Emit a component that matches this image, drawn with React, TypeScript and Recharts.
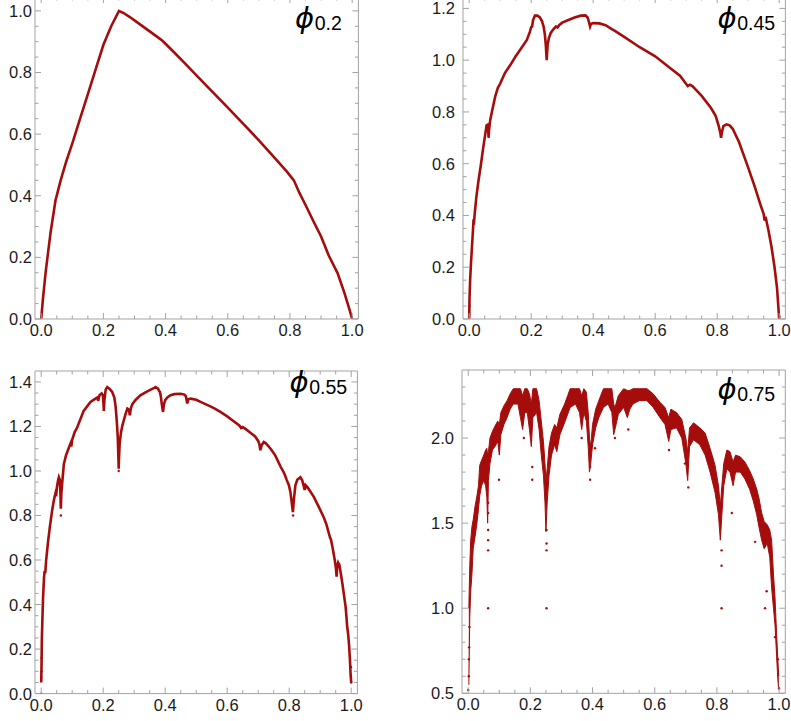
import { Area, ComposedChart, Line, Scatter, XAxis, YAxis } from "recharts";

const RED = "#a50d0d";
const FRAME = "#a3a3a3";
const INK = "#1c1c1c";
const FONT = "'Liberation Sans', Arial, sans-serif";

// tick positions (majors get labels)
const xMajor = [0, 0.2, 0.4, 0.6, 0.8, 1];
const xMinor = [0.05, 0.1, 0.15, 0.25, 0.3, 0.35, 0.45, 0.5, 0.55, 0.65, 0.7, 0.75, 0.85, 0.9, 0.95];
const yMajorA = [0, 0.2, 0.4, 0.6, 0.8, 1, 1.2, 1.4];
const yMinorA = [0.05, 0.1, 0.15, 0.25, 0.3, 0.35, 0.45, 0.5, 0.55, 0.65, 0.7, 0.75, 0.85, 0.9, 0.95, 1.05, 1.1, 1.15, 1.25, 1.3, 1.35, 1.45];
const yMajorB = [0.5, 1, 1.5, 2];
const yMinorB = [0.6, 0.7, 0.8, 0.9, 1.1, 1.2, 1.3, 1.4, 1.6, 1.7, 1.8, 1.9, 2.1, 2.2, 2.3];

// phi_0.2
const phi02: [number, number][] = [
  [0, 0], [0.005, 0.06], [0.014, 0.15], [0.03, 0.28], [0.046, 0.385], [0.0625, 0.45],
  [0.08, 0.51], [0.1, 0.57], [0.125, 0.65], [0.15, 0.73], [0.175, 0.81], [0.2, 0.89],
  [0.225, 0.95], [0.25, 1.0], [0.265, 0.993], [0.285, 0.98], [0.31, 0.962], [0.34, 0.94],
  [0.37, 0.918], [0.39, 0.903], [0.42, 0.873], [0.46, 0.832], [0.5, 0.79], [0.55, 0.738],
  [0.6, 0.686], [0.65, 0.633], [0.7, 0.58], [0.75, 0.524], [0.79, 0.478], [0.8125, 0.45],
  [0.83, 0.41], [0.85, 0.37], [0.875, 0.318], [0.9, 0.268], [0.925, 0.205], [0.953, 0.149],
  [0.975, 0.085], [0.99, 0.035], [1, 0],
];

// phi_0.45
const phi045: [number, number][] = [
  [0, 0], [0.001, 0.08], [0.003, 0.15], [0.006, 0.22], [0.009, 0.28], [0.012, 0.34],
  [0.014, 0.385], [0.016, 0.38], [0.018, 0.41], [0.023, 0.47], [0.03, 0.535], [0.037, 0.59],
  [0.045, 0.66], [0.052, 0.715], [0.056, 0.748], [0.059, 0.75], [0.0615, 0.73], [0.0625, 0.7],
  [0.064, 0.73], [0.068, 0.77], [0.075, 0.81], [0.084, 0.86], [0.093, 0.895], [0.096, 0.9],
  [0.1, 0.91], [0.115, 0.95], [0.132, 0.98], [0.15, 1.015], [0.17, 1.05], [0.186, 1.078],
  [0.196, 1.11], [0.2, 1.128], [0.203, 1.13], [0.206, 1.155], [0.212, 1.172], [0.22, 1.172],
  [0.228, 1.165], [0.235, 1.15], [0.24, 1.13], [0.244, 1.1], [0.247, 1.06], [0.25, 1.0],
  [0.253, 1.06], [0.257, 1.085], [0.263, 1.105], [0.272, 1.12], [0.28, 1.13], [0.285, 1.126],
  [0.29, 1.135], [0.3, 1.145], [0.32, 1.155], [0.34, 1.165], [0.36, 1.172], [0.375, 1.173],
  [0.382, 1.165], [0.388, 1.14], [0.39, 1.13], [0.393, 1.14], [0.4, 1.143], [0.42, 1.142],
  [0.44, 1.135], [0.46, 1.12], [0.47, 1.113], [0.5, 1.09], [0.55, 1.05], [0.6, 1.015],
  [0.65, 0.968], [0.68, 0.94], [0.7, 0.908], [0.705, 0.9], [0.712, 0.905], [0.72, 0.9],
  [0.75, 0.862], [0.78, 0.815], [0.795, 0.785], [0.805, 0.745], [0.81, 0.72], [0.8125, 0.7],
  [0.815, 0.72], [0.82, 0.745], [0.83, 0.752], [0.84, 0.748], [0.85, 0.735], [0.87, 0.685],
  [0.9, 0.585], [0.92, 0.515], [0.94, 0.44], [0.95, 0.405], [0.953, 0.38], [0.956, 0.395],
  [0.965, 0.345], [0.975, 0.28], [0.985, 0.2], [0.993, 0.12], [1, 0],
];
const dots045: [number, number][] = [[0, 0.02], [0.001, 0.05], [1, 0.01]];

// phi_0.55
const phi055: [number, number][] = [
  [0, 0.05], [0.001, 0.12], [0.002, 0.24], [0.004, 0.34], [0.006, 0.43], [0.009, 0.52],
  [0.011, 0.55], [0.013, 0.54], [0.016, 0.6], [0.022, 0.68], [0.028, 0.75], [0.035, 0.82],
  [0.041, 0.87], [0.047, 0.905], [0.049, 0.9], [0.051, 0.93], [0.054, 0.955], [0.057, 0.972],
  [0.06, 0.96], [0.062, 0.9], [0.0633, 0.83], [0.065, 0.9], [0.068, 0.95], [0.073, 1.03],
  [0.08, 1.07], [0.088, 1.1], [0.095, 1.125], [0.097, 1.11], [0.1, 1.14], [0.108, 1.175],
  [0.116, 1.195], [0.137, 1.27], [0.159, 1.31], [0.175, 1.325], [0.181, 1.33], [0.184, 1.315],
  [0.188, 1.34], [0.195, 1.348], [0.199, 1.34], [0.201, 1.3], [0.202, 1.27], [0.204, 1.32],
  [0.208, 1.365], [0.213, 1.377], [0.22, 1.37], [0.229, 1.355], [0.236, 1.33], [0.24, 1.29],
  [0.244, 1.22], [0.247, 1.15], [0.2495, 1.04], [0.25, 1.01], [0.2505, 1.04], [0.253, 1.12],
  [0.257, 1.17], [0.262, 1.205], [0.267, 1.23], [0.272, 1.255], [0.278, 1.28], [0.283, 1.275],
  [0.286, 1.25], [0.289, 1.28], [0.294, 1.3], [0.305, 1.32], [0.32, 1.34], [0.335, 1.352],
  [0.353, 1.365], [0.365, 1.373], [0.369, 1.377], [0.377, 1.37], [0.38, 1.36], [0.383, 1.355],
  [0.386, 1.335], [0.389, 1.3], [0.393, 1.265], [0.396, 1.3], [0.4, 1.318], [0.407, 1.33],
  [0.417, 1.34], [0.43, 1.345], [0.449, 1.347], [0.462, 1.343], [0.467, 1.335], [0.471, 1.303],
  [0.475, 1.322], [0.482, 1.325], [0.5, 1.32], [0.514, 1.31], [0.535, 1.297], [0.546, 1.29],
  [0.56, 1.28], [0.578, 1.265], [0.6, 1.245], [0.622, 1.222], [0.64, 1.203], [0.645, 1.193],
  [0.65, 1.197], [0.66, 1.188], [0.675, 1.172], [0.69, 1.155], [0.7, 1.135], [0.704, 1.12],
  [0.707, 1.093], [0.711, 1.115], [0.718, 1.13], [0.724, 1.125], [0.74, 1.1], [0.755, 1.07],
  [0.772, 1.02], [0.782, 0.995], [0.788, 0.975], [0.792, 0.96], [0.799, 0.936], [0.804, 0.905],
  [0.808, 0.86], [0.812, 0.815], [0.815, 0.87], [0.82, 0.935], [0.826, 0.96], [0.836, 0.972],
  [0.842, 0.958], [0.847, 0.932], [0.85, 0.915], [0.853, 0.936], [0.86, 0.925], [0.879, 0.885],
  [0.895, 0.84], [0.912, 0.79], [0.92, 0.76], [0.928, 0.72], [0.932, 0.7], [0.935, 0.69],
  [0.94, 0.655], [0.947, 0.6], [0.951, 0.56], [0.953, 0.525], [0.955, 0.57], [0.958, 0.588],
  [0.962, 0.578], [0.967, 0.535], [0.972, 0.49], [0.977, 0.44], [0.982, 0.39], [0.985, 0.34],
  [0.987, 0.3], [0.99, 0.27], [0.993, 0.22], [0.996, 0.15], [0.998, 0.09], [1, 0.05],
];
const dots055: [number, number][] = [
  [0, 0], [0, 0.07], [0.001, 0.1], [0.001, 0.16], [0.002, 0.2], [0.0635, 0.8],
  [0.25, 1.0], [0.8125, 0.8], [1, 0.05], [0.999, 0.08], [0.9995, 0.12],
];

// phi_0.75: dense point cloud, kept as [x, low, high] band plus stray points
const band075: [number, number, number][] = [
  [0.002, 0.55, 1.0], [0.005, 0.95, 1.25], [0.008, 1.1, 1.4], [0.012, 1.2, 1.48], [0.016, 1.35, 1.52],
  [0.022, 1.42, 1.6], [0.028, 1.5, 1.66], [0.033, 1.58, 1.72], [0.037, 1.66, 1.84], [0.043, 1.72, 1.87],
  [0.05, 1.75, 1.9], [0.056, 1.72, 1.93], [0.06, 1.65, 1.94], [0.0625, 1.5, 1.9], [0.065, 1.75, 1.92],
  [0.07, 1.85, 2.0], [0.078, 1.93, 2.04], [0.086, 1.95, 2.07], [0.095, 1.98, 2.1], [0.1, 1.9, 2.08],
  [0.105, 2.02, 2.15], [0.115, 2.08, 2.19], [0.125, 2.12, 2.22], [0.135, 2.17, 2.26], [0.145, 2.2, 2.29],
  [0.16, 2.2, 2.29], [0.168, 2.12, 2.29], [0.175, 2.05, 2.25], [0.182, 2.15, 2.29], [0.19, 2.15, 2.29],
  [0.197, 2.05, 2.26], [0.203, 1.95, 2.2], [0.208, 2.12, 2.29], [0.22, 2.15, 2.29], [0.228, 2.05, 2.22],
  [0.235, 1.9, 2.1], [0.242, 1.78, 1.98], [0.247, 1.62, 1.85], [0.25, 1.45, 1.75], [0.254, 1.62, 1.82],
  [0.26, 1.78, 1.95], [0.268, 1.9, 2.03], [0.278, 1.96, 2.08], [0.285, 1.92, 2.06], [0.295, 2.02, 2.14],
  [0.31, 2.09, 2.2], [0.32, 2.14, 2.25], [0.328, 2.18, 2.29], [0.345, 2.2, 2.29], [0.358, 2.15, 2.29],
  [0.365, 2.05, 2.25], [0.372, 2.15, 2.29], [0.38, 2.1, 2.27], [0.386, 1.95, 2.15], [0.39, 1.8, 2.0],
  [0.394, 1.85, 1.95], [0.4, 1.96, 2.08], [0.41, 2.06, 2.17], [0.42, 2.12, 2.22], [0.435, 2.18, 2.29],
  [0.45, 2.2, 2.29], [0.462, 2.15, 2.29], [0.468, 2.02, 2.2], [0.472, 2.05, 2.18], [0.483, 2.14, 2.25],
  [0.5, 2.18, 2.29], [0.512, 2.12, 2.28], [0.52, 2.17, 2.28], [0.53, 2.2, 2.29], [0.55, 2.22, 2.29],
  [0.575, 2.22, 2.29], [0.595, 2.18, 2.26], [0.617, 2.12, 2.21], [0.633, 2.08, 2.18], [0.645, 1.98, 2.12],
  [0.652, 2.05, 2.17], [0.67, 2.06, 2.15], [0.687, 2.0, 2.11], [0.7, 1.85, 2.0], [0.706, 1.75, 1.92],
  [0.712, 1.95, 2.06], [0.725, 1.99, 2.09], [0.745, 1.96, 2.06], [0.762, 1.9, 2.03], [0.778, 1.8, 1.94],
  [0.794, 1.68, 1.84], [0.805, 1.55, 1.72], [0.811, 1.4, 1.6], [0.816, 1.55, 1.72], [0.822, 1.72, 1.85],
  [0.832, 1.82, 1.93], [0.842, 1.8, 1.92], [0.852, 1.72, 1.86], [0.86, 1.8, 1.9], [0.875, 1.8, 1.89],
  [0.89, 1.76, 1.86], [0.905, 1.7, 1.81], [0.917, 1.63, 1.76], [0.928, 1.55, 1.7], [0.935, 1.48, 1.65],
  [0.944, 1.4, 1.56], [0.952, 1.35, 1.51], [0.962, 1.38, 1.49], [0.97, 1.3, 1.46], [0.976, 1.12, 1.4],
  [0.982, 1.0, 1.2], [0.987, 0.9, 1.06], [0.992, 0.72, 0.85], [0.996, 0.58, 0.7], [0.999, 0.52, 0.6],
];
const dots075: [number, number][] = [
  [0, 0.52], [0.002, 0.6], [0.002, 0.7], [0.003, 0.77], [0.004, 0.89], [0.064, 1.0], [0.064, 1.34],
  [0.064, 1.4], [0.064, 1.46], [0.064, 1.56], [0.064, 1.62], [0.099, 1.755], [0.179, 2.0], [0.206, 1.755],
  [0.206, 1.83], [0.252, 1.0], [0.252, 1.34], [0.252, 1.38], [0.252, 1.46], [0.365, 2.0], [0.392, 1.755],
  [0.392, 1.83], [0.408, 1.94], [0.472, 2.0], [0.515, 2.05], [0.646, 1.93], [0.697, 1.85], [0.708, 1.71],
  [0.815, 1.0], [0.815, 1.25], [0.815, 1.34], [0.848, 1.56], [0.923, 1.39], [0.955, 1.0], [0.96, 1.1],
  [0.987, 0.83], [0.996, 0.7], [1, 0.53],
];

const pts = (a: [number, number][]) => a.map(([x, y]) => ({ x, y }));

const isIn = (v: number, list: number[]) => list.some((m) => Math.abs(m - v) < 1e-6);

const dotShape = (p: any) => <circle cx={p.cx} cy={p.cy} r={1.2} fill={RED} />;

const LABEL_SIZE = 16.5;

function Panel({
  left,
  top,
  width,
  height,
  yDomain,
  yMajor,
  yMinor,
  yGap,
  data,
  children,
}: {
  left: number;
  top: number;
  width: number;
  height: number;
  yDomain: [number, number];
  yMajor: number[];
  yMinor: number[];
  yGap: number;
  data?: any[];
  children: any;
}) {
  const L = 44, R = 10, T = 10, B = 30;
  const xTicks = [...xMajor, ...xMinor].sort((a, b) => a - b);
  const yTicks = [...yMajor, ...yMinor].filter((v) => v >= yDomain[0] && v <= yDomain[1]).sort((a, b) => a - b);
  const len = (v: number, major: number[]) => (isIn(v, major) ? 6 : 3.5);

  const bottomTick = (p: any) => {
    const v = p.payload.value;
    return (
      <g>
        <line x1={p.x} y1={p.y} x2={p.x} y2={p.y - len(v, xMajor)} stroke={FRAME} />
        {isIn(v, xMajor) && (
          <text x={p.x} y={p.y + 17} textAnchor="middle" fontSize={LABEL_SIZE} fontFamily={FONT} fill={INK}>
            {v.toFixed(1)}
          </text>
        )}
      </g>
    );
  };
  const topTick = (p: any) => (
    <line x1={p.x} y1={p.y} x2={p.x} y2={p.y + len(p.payload.value, xMajor)} stroke={FRAME} />
  );
  const leftTick = (p: any) => {
    const v = p.payload.value;
    return (
      <g>
        <line x1={p.x} y1={p.y} x2={p.x + len(v, yMajor)} y2={p.y} stroke={FRAME} />
        {isIn(v, yMajor) && (
          <text x={p.x - yGap} y={p.y + 6} textAnchor="end" fontSize={LABEL_SIZE} fontFamily={FONT} fill={INK}>
            {v.toFixed(1)}
          </text>
        )}
      </g>
    );
  };
  const rightTick = (p: any) => (
    <line x1={p.x} y1={p.y} x2={p.x - len(p.payload.value, yMajor)} y2={p.y} stroke={FRAME} />
  );

  const common = {
    type: "number" as const,
    allowDataOverflow: true,
    interval: 0,
    tickSize: 0,
    tickMargin: 0,
    tickLine: false,
    axisLine: { stroke: FRAME },
  };

  return (
    <div style={{ position: "absolute", left: left - L, top: top - T }}>
      <ComposedChart
        width={width + L + R}
        height={height + T + B}
        data={data}
        margin={{ top: 0, right: 0, bottom: 0, left: 0 }}
      >
        <XAxis {...common} xAxisId="b" dataKey="x" domain={[-0.02, 1.02]} ticks={xTicks} height={B} tick={bottomTick} />
        <XAxis {...common} xAxisId="t" orientation="top" dataKey="x" domain={[-0.02, 1.02]} ticks={xTicks} height={T} tick={topTick} />
        <YAxis {...common} yAxisId="l" dataKey="y" domain={yDomain} ticks={yTicks} width={L} tick={leftTick} />
        <YAxis {...common} yAxisId="r" orientation="right" dataKey="y" domain={yDomain} ticks={yTicks} width={R} tick={rightTick} />
        {children}
      </ComposedChart>
    </div>
  );
}

const lineProps = {
  xAxisId: "b",
  yAxisId: "l",
  dataKey: "y",
  type: "linear" as const,
  stroke: RED,
  strokeWidth: 2.6,
  dot: false,
  isAnimationActive: false,
};

const scatterProps = {
  xAxisId: "b",
  yAxisId: "l",
  dataKey: "y",
  fill: RED,
  shape: dotShape,
  isAnimationActive: false,
};

function PhiLabel({ x, y, sub }: { x: number; y: number; sub: string }) {
  return (
    <text x={x} y={y}>
      <tspan fontFamily="'DejaVu Sans', sans-serif" fontStyle="italic" fontSize={29} fill="#000">
        ϕ
      </tspan>
      <tspan fontFamily={FONT} fontSize={19.5} fill="#000" dx={0.5} dy={2}>
        {sub}
      </tspan>
    </text>
  );
}

export default function App() {
  const bandData = band075.map(([x, lo, hi]) => ({ x, band: [lo, hi] }));
  return (
    <div style={{ position: "absolute", left: 0, top: 0, width: 791, height: 721, overflow: "hidden", background: "#fff" }}>
      <Panel left={34.5} top={-3} width={323.4} height={322} yDomain={[0, 1.045]} yMajor={yMajorA} yMinor={yMinorA} yGap={3}>
        <Line {...lineProps} data={pts(phi02)} />
      </Panel>
      <Panel left={462.8} top={-3} width={322.4} height={322} yDomain={[0, 1.244]} yMajor={yMajorA} yMinor={yMinorA} yGap={8}>
        <Line {...lineProps} data={pts(phi045)} />
        <Scatter {...scatterProps} data={pts(dots045)} />
      </Panel>
      <Panel left={34.5} top={370.7} width={322.4} height={322.6} yDomain={[0, 1.449]} yMajor={yMajorA} yMinor={yMinorA} yGap={3}>
        <Line {...lineProps} data={pts(phi055)} />
        <Scatter {...scatterProps} data={pts(dots055)} />
      </Panel>
      <Panel left={462.1} top={370} width={323.3} height={323.3} yDomain={[0.5, 2.4]} yMajor={yMajorB} yMinor={yMinorB} yGap={8} data={bandData}>
        <Area xAxisId="b" yAxisId="l" dataKey="band" type="linear" stroke={RED} strokeWidth={1} fill={RED} fillOpacity={1} isAnimationActive={false} />
        <Scatter {...scatterProps} data={pts(dots075)} />
      </Panel>
      <svg width={791} height={721} style={{ position: "absolute", left: 0, top: 0, pointerEvents: "none" }}>
        <PhiLabel x={295} y={28} sub="0.2" />
        <PhiLabel x={717.5} y={28} sub="0.45" />
        <PhiLabel x={289.5} y={392} sub="0.55" />
        <PhiLabel x={717.5} y={398.5} sub="0.75" />
      </svg>
    </div>
  );
}
